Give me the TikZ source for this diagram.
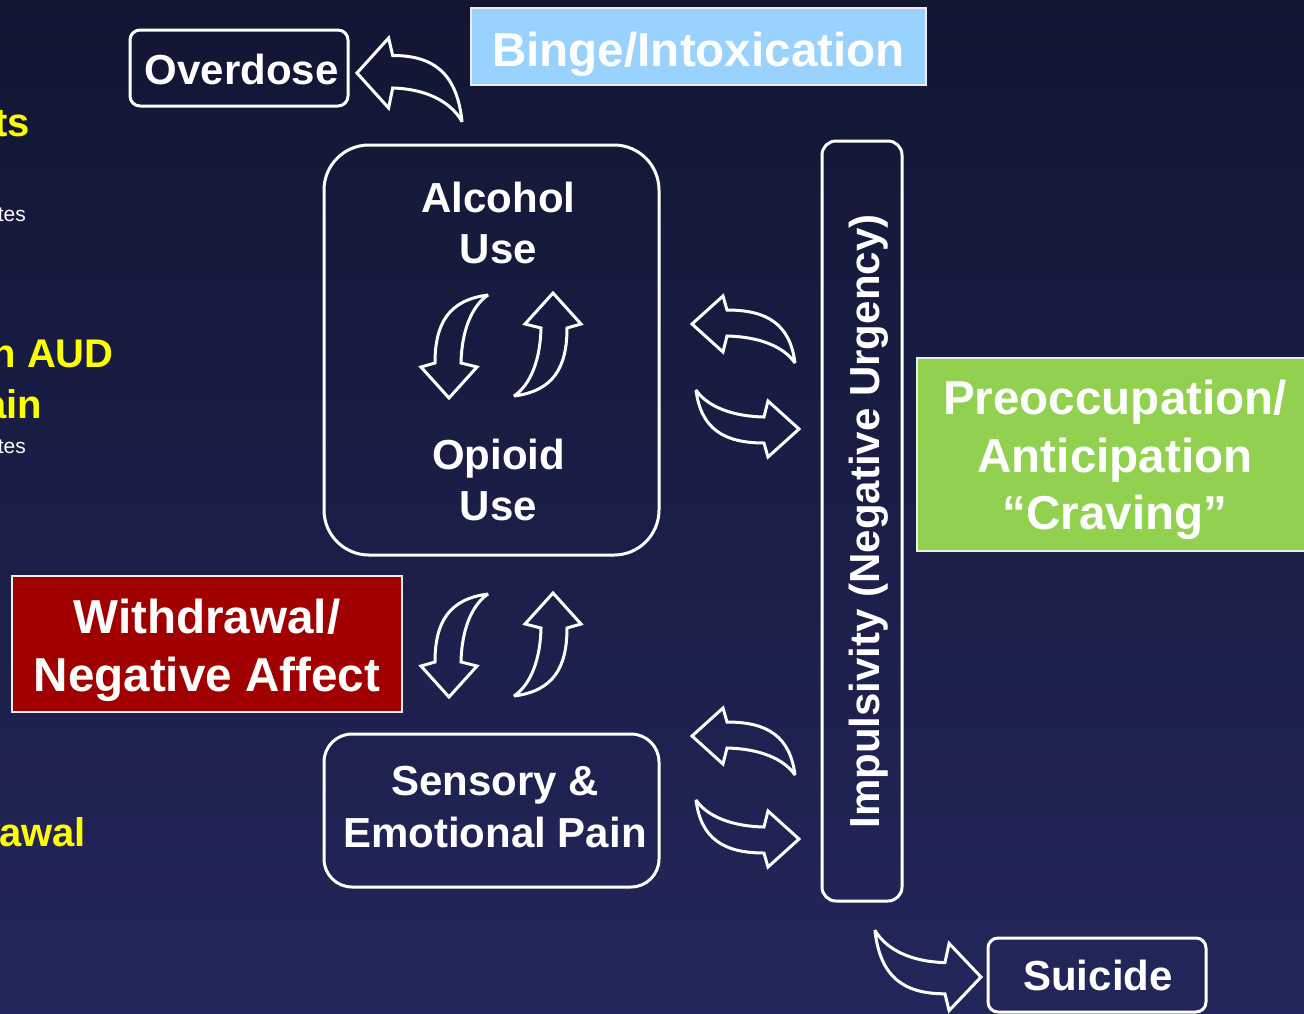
\documentclass[tikz,border=0pt]{standalone}
\usepackage{fontspec}
\setmainfont{Liberation Sans}
\definecolor{bgtop}{HTML}{121633}
\definecolor{bgbot}{HTML}{23265A}
\definecolor{bingeblue}{HTML}{99D1FF}
\definecolor{wdred}{HTML}{A00000}
\definecolor{preogreen}{HTML}{92D050}
\definecolor{hilite}{HTML}{FFFF00}
\tikzset{
  outbox/.style={draw=white, line width=3pt, inner sep=0pt, rounded corners=#1},
  filledbox/.style={draw=white!85!gray, line width=1.5pt, fill=#1, inner sep=0pt},
  txtA/.style={text=white, font=\fontsize{42}{50}\selectfont\bfseries, anchor=base, inner sep=0pt},
  txtB/.style={text=white, font=\fontsize{47.6}{57}\selectfont\bfseries, anchor=base, inner sep=0pt},
  sidetxt/.style={text=hilite, font=\fontsize{40}{48}\selectfont\bfseries, anchor=base east, inner sep=0pt},
  smalltxt/.style={text=white, font=\fontsize{21}{25}\selectfont, anchor=base east, inner sep=0pt},
  arrline/.style={draw=white, line width=3pt, line join=miter, miter limit=3},
  curvarr/.pic={\path[arrline] (0,0) -- (-31,-28) -- (-35,-12)
      .. controls (-75,-13) and (-95,-27) .. (-103,-39)
      .. controls (-98,0) and (-75,14) .. (-35,14) -- (-31,28) -- cycle;}
}
\begin{document}
\begin{tikzpicture}[x=1pt,y=-1pt]
\useasboundingbox (0,0) rectangle (1304,1013);
\clip (0,0) rectangle (1304,1013);
\shade[top color=bgtop, bottom color=bgbot] (0,0) rectangle (1304,1013);

% clipped side texts (cut by the left edge, as in the reference)
\node[sidetxt] (s1) at (30,136) {ts};
\node[smalltxt] (s2) at (26,221) {tes};
\node[sidetxt] (s3) at (114,367) {n AUD};
\node[sidetxt] (s4) at (42,418) {ain};
\node[smalltxt] (s5) at (26,453) {tes};
\node[sidetxt] (s6) at (86,846) {awal};

% boxes
\node[outbox=10pt, minimum width=218pt, minimum height=76pt] (od) at (239,68) {};
\node[txtA] (odt) at (241.5,84) {Overdose};

\node[filledbox=bingeblue, minimum width=455pt, minimum height=77pt] (bi) at (698.5,46.5) {};
\node[txtB] (bit) at (698.5,66) {Binge/Intoxication};

\node[outbox=45pt, minimum width=335pt, minimum height=410pt] (au) at (491.5,350) {};
\node[txtA] (au1) at (498.5,212) {Alcohol};
\node[txtA] (au2) at (498.5,263) {Use};
\node[txtA] (au3) at (498.5,469) {Opioid};
\node[txtA] (au4) at (498.5,520) {Use};

\node[outbox=28pt, minimum width=335pt, minimum height=153pt] (sp) at (491.5,810.5) {};
\node[txtA] (sp1) at (495,795) {Sensory \&};
\node[txtA] (sp2) at (495,847) {Emotional Pain};

\node[outbox=14pt, minimum width=80pt, minimum height=760pt] (imp) at (862,521) {};
\node[txtA, rotate=90] (impt) at (879,521.5) {Impulsivity (Negative Urgency)};

\node[filledbox=wdred, minimum width=390pt, minimum height=136pt] (wd) at (207,644) {};
\node[txtB] (wd1) at (207,633) {Withdrawal/};
\node[txtB] (wd2) at (207,691) {Negative Affect};

\node[filledbox=preogreen, minimum width=393pt, minimum height=193pt] (pa) at (1113.5,454.5) {};
\node[txtB] (pa1) at (1115,414) {Preoccupation/};
\node[txtB] (pa2) at (1115,472) {Anticipation};
\node[txtB] (pa3) at (1115,529) {“Craving”};

\node[outbox=10pt, minimum width=218pt, minimum height=74pt] (su) at (1097,975) {};
\node[txtA] (sut) at (1098,990) {Suicide};

% curved block arrows
\pic[rotate=180, xscale=1.02, yscale=1.25] (a1) at (357,73) {curvarr};
\pic[rotate=-90] (a2) at (449,398) {curvarr};
\pic[rotate=90] (a3) at (553,293) {curvarr};
\pic[rotate=-90] (a4) at (449,697) {curvarr};
\pic[rotate=90] (a5) at (553,593) {curvarr};
\pic[rotate=180] (a6) at (692,324) {curvarr};
\pic (a7) at (799,429) {curvarr};
\pic[rotate=180] (a8) at (692,736) {curvarr};
\pic (a9) at (799,839) {curvarr};
\pic[xscale=1.03, yscale=1.2] (a10) at (981,977) {curvarr};
\end{tikzpicture}
\end{document}
